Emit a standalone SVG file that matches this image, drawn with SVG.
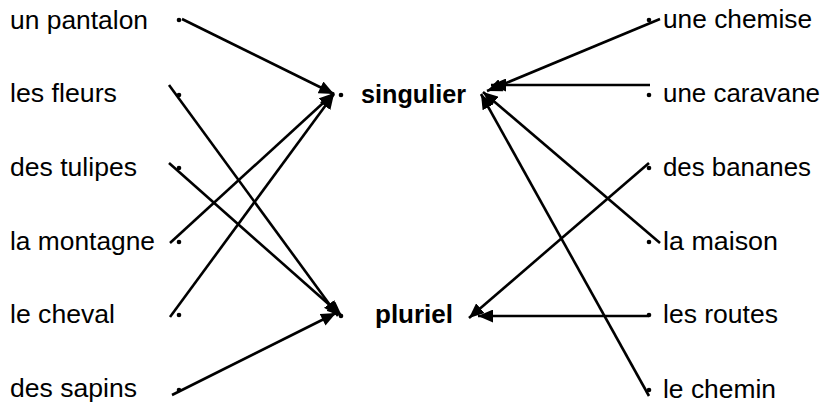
<svg xmlns="http://www.w3.org/2000/svg" width="827" height="405" viewBox="0 0 827 405">
<style>
text{font-family:"Liberation Sans",Arial,sans-serif;font-size:26px;fill:#000}
.b{font-weight:bold}
.dot{fill:#000}
.c line{stroke:#000;stroke-width:2.6;marker-end:url(#ah)}
</style>
<defs>
<marker id="ah" markerUnits="userSpaceOnUse" markerWidth="17" markerHeight="13" refX="15" refY="6.5" orient="auto">
<path d="M0,0 L15,6.5 L0,13 Z" fill="#000"/>
</marker>
</defs>
<rect width="827" height="405" fill="#fff"/>
<g id="n-un-pantalon"><text x="10" y="29" textLength="138" lengthAdjust="spacingAndGlyphs">un pantalon</text><circle class="dot" cx="179" cy="20" r="2.3"/></g>
<g id="n-les-fleurs"><text x="10" y="102" textLength="107" lengthAdjust="spacingAndGlyphs">les fleurs</text><circle class="dot" cx="179" cy="95" r="2.3"/></g>
<g id="n-des-tulipes"><text x="10" y="176" textLength="127" lengthAdjust="spacingAndGlyphs">des tulipes</text><circle class="dot" cx="179" cy="168" r="2.3"/></g>
<g id="n-la-montagne"><text x="10" y="250" textLength="145" lengthAdjust="spacingAndGlyphs">la montagne</text><circle class="dot" cx="179" cy="242" r="2.3"/></g>
<g id="n-le-cheval"><text x="10" y="323" textLength="105" lengthAdjust="spacingAndGlyphs">le cheval</text><circle class="dot" cx="179" cy="315" r="2.3"/></g>
<g id="n-des-sapins"><text x="10" y="397" textLength="127" lengthAdjust="spacingAndGlyphs">des sapins</text><circle class="dot" cx="179" cy="390" r="2.3"/></g>
<g id="n-singulier"><circle class="dot" cx="341" cy="95" r="2.3"/><text class="b" x="361" y="103" textLength="105" lengthAdjust="spacingAndGlyphs">singulier</text></g>
<g id="n-pluriel"><circle class="dot" cx="341" cy="316" r="2.3"/><text class="b" x="375" y="323" textLength="78" lengthAdjust="spacingAndGlyphs">pluriel</text></g>
<g id="n-une-chemise"><circle class="dot" cx="649" cy="20" r="2.3"/><text x="663" y="28" textLength="149" lengthAdjust="spacingAndGlyphs">une chemise</text></g>
<g id="n-une-caravane"><circle class="dot" cx="649" cy="95" r="2.3"/><text x="663" y="102" textLength="157" lengthAdjust="spacingAndGlyphs">une caravane</text></g>
<g id="n-des-bananes"><circle class="dot" cx="649" cy="168" r="2.3"/><text x="663" y="176" textLength="148" lengthAdjust="spacingAndGlyphs">des bananes</text></g>
<g id="n-la-maison"><circle class="dot" cx="649" cy="242" r="2.3"/><text x="663" y="250" textLength="115" lengthAdjust="spacingAndGlyphs">la maison</text></g>
<g id="n-les-routes"><circle class="dot" cx="649" cy="315" r="2.3"/><text x="663" y="323" textLength="115" lengthAdjust="spacingAndGlyphs">les routes</text></g>
<g id="n-le-chemin"><circle class="dot" cx="649" cy="390" r="2.3"/><text x="663" y="398" textLength="113" lengthAdjust="spacingAndGlyphs">le chemin</text></g>
<g id="connectors" class="c">
<line x1="182" y1="19" x2="334" y2="94"/>
<line x1="169" y1="85" x2="338" y2="316"/>
<line x1="169" y1="163" x2="342" y2="316"/>
<line x1="170" y1="243" x2="334" y2="93"/>
<line x1="170" y1="317" x2="334" y2="94"/>
<line x1="172" y1="395" x2="336" y2="313"/>
<line x1="660" y1="19" x2="487" y2="91"/>
<line x1="650" y1="85" x2="491" y2="85"/>
<line x1="649" y1="163" x2="469" y2="318"/>
<line x1="660" y1="243" x2="483" y2="92"/>
<line x1="649" y1="316" x2="478" y2="316"/>
<line x1="649" y1="396" x2="481" y2="94"/>
</g>
</svg>
